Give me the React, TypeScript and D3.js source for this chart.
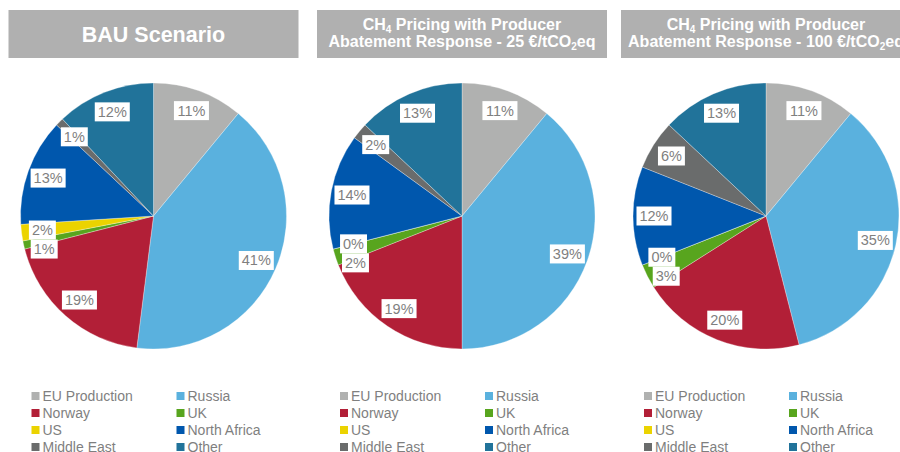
import * as d3 from "d3";

const categories = ["EU Production", "Russia", "Norway", "UK", "US", "North Africa", "Middle East", "Other"];
const sliceColors = ["#b0b1b0", "#5ab1de", "#b21f37", "#58a51e", "#ebd300", "#0057ad", "#6a6c6c", "#21739a"];

const scenarios = ["bau", "price25", "price100"];
const bauShares = [11, 41, 19, 1, 2, 13, 1, 12];
const price25Shares = [11, 39, 19, 2, 0, 14, 2, 13];
const price100Shares = [11, 35, 20, 3, 0, 12, 6, 13];

const W = 900;
const H = 452;
const PANEL_CX = [153.5, 462, 766];
const PIE_CY = 216;
const R = 133;
const LABEL_R = 112;
const LABEL_FS = 14.5;
const LABEL_H = 19;
const HEADER_W = 290;
const GRAY_TEXT = "#7f7f7f";
const FONT = "'Liberation Sans', Arial, sans-serif";

const sharesBy: Record<string, number[]> = {
  bau: bauShares,
  price25: price25Shares,
  price100: price100Shares,
};

// rough Arial widths, enough to size the white label boxes
function textWidth(s: string, fs: number) {
  let w = 0;
  for (const ch of s) w += ch === "%" ? 0.889 : 0.556;
  return w * fs;
}

type Label = { x: number; y: number; w: number; text: string };

function placeLabels(shares: number[]): Label[] {
  const pie = d3.pie<number>().sort(null).value((d) => d);
  const arcs = pie(shares);
  const labelArc = d3.arc<d3.PieArcDatum<number>>().innerRadius(LABEL_R).outerRadius(LABEL_R);
  const labels: Label[] = arcs.map((a) => {
    const [x, y] = labelArc.centroid(a);
    const text = `${a.data}%`;
    return { x, y, w: textWidth(text, LABEL_FS) + 6, text };
  });
  // later slices keep their spot, earlier ones get pushed down off them (like Excel does)
  const placed: Label[] = [];
  for (let i = labels.length - 1; i >= 0; i--) {
    const l = labels[i];
    for (const p of placed) {
      const overlapX = Math.abs(l.x - p.x) < (l.w + p.w) / 2;
      const overlapY = Math.abs(l.y - p.y) < LABEL_H;
      if (overlapX && overlapY) l.y = p.y + LABEL_H;
    }
    placed.push(l);
  }
  return labels;
}

function Header({ cx, scenario }: { cx: number; scenario: string }) {
  const common = {
    fill: "#ffffff",
    fontFamily: FONT,
    fontWeight: 700,
    textAnchor: "middle" as const,
  };
  return (
    <g>
      <rect x={cx - HEADER_W / 2} y={10} width={HEADER_W} height={48} fill="#b0b0b0" />
      {scenario === "bau" ? (
        <text x={cx} y={42} fontSize={21.5} {...common}>
          BAU Scenario
        </text>
      ) : (
        <g>
          <text x={cx} y={30} fontSize={16} {...common}>
            CH<tspan fontSize={10} dy={3}>4</tspan>
            <tspan dy={-3}> Pricing with Producer</tspan>
          </text>
          <text x={cx} y={47} fontSize={16} {...common}>
            Abatement Response - {scenario === "price25" ? "25" : "100"} €/tCO
            <tspan fontSize={10} dy={3}>2</tspan>
            <tspan dy={-3}>eq</tspan>
          </text>
        </g>
      )}
    </g>
  );
}

function PiePanel({ cx, scenario }: { cx: number; scenario: string }) {
  const shares = sharesBy[scenario];
  const pie = d3.pie<number>().sort(null).value((d) => d);
  const arc = d3.arc<d3.PieArcDatum<number>>().innerRadius(0).outerRadius(R);
  const arcs = pie(shares);
  const labels = placeLabels(shares);

  const legendRow = d3.scaleLinear().domain([0, 1]).range([396, 413]);
  const legendCol = [cx - 122, cx + 23];

  return (
    <g>
      <Header cx={cx} scenario={scenario} />
      <g transform={`translate(${cx},${PIE_CY})`}>
        {arcs.map((a, i) => (
          <path key={categories[i]} d={arc(a) ?? ""} fill={sliceColors[i]} stroke="#ffffff" strokeWidth={0.3} />
        ))}
        {labels.map((l, i) => (
          <g key={`lab-${categories[i]}`} transform={`translate(${l.x},${l.y})`}>
            <rect x={-l.w / 2} y={-LABEL_H / 2} width={l.w} height={LABEL_H} fill="#ffffff" />
            <text y={5} textAnchor="middle" fontSize={LABEL_FS} fontFamily={FONT} fill={GRAY_TEXT}>
              {l.text}
            </text>
          </g>
        ))}
      </g>
      {categories.map((c, i) => {
        const row = Math.floor(i / 2);
        const x = legendCol[i % 2];
        const y = legendRow(row);
        return (
          <g key={`leg-${c}`}>
            <rect x={x} y={y - 4} width={8} height={8} fill={sliceColors[i]} />
            <text x={x + 11} y={y + 5} fontSize={14} fontFamily={FONT} fill={GRAY_TEXT}>
              {c}
            </text>
          </g>
        );
      })}
    </g>
  );
}

export default function App() {
  return (
    <div style={{ position: "absolute", left: 0, top: 0 }}>
      <svg width={W} height={H} style={{ display: "block", background: "#ffffff" }}>
        {scenarios.map((s, i) => (
          <PiePanel key={s} cx={PANEL_CX[i]} scenario={s} />
        ))}
      </svg>
    </div>
  );
}
